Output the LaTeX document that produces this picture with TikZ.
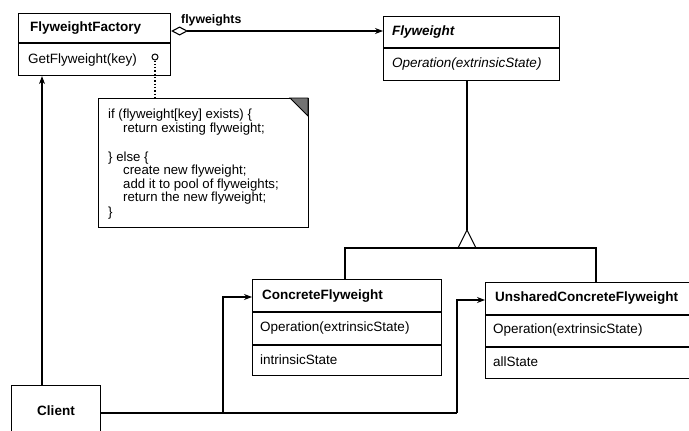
\documentclass[tikz,border=0pt]{standalone}
\usepackage{fontspec}
\setmainfont{Liberation Sans}
\usetikzlibrary{arrows.meta}
\begin{document}
\begin{tikzpicture}[x=1pt,y=-1pt,
  box/.style={draw,line width=1.1pt,anchor=north west,inner sep=0pt},
  title/.style={anchor=west,inner sep=0pt,font=\fontsize{13.5}{16}\selectfont\bfseries},
  member/.style={anchor=west,inner sep=0pt,font=\fontsize{13.5}{16}\selectfont},
  link/.style={line width=1.1pt},
  tip/.style={-{Stealth[length=8pt,width=6pt]}}
]
\useasboundingbox (0,0) rectangle (689,431);

% FlyweightFactory
\node[box,minimum width=152pt,minimum height=62pt] (factory) at (18,13) {};
\draw[link] (18,43) -- (170,43);
\node[title] (factoryname) at (30,28) {FlyweightFactory};
\node[member] (getfly) at (28,60) {GetFlyweight(key)};
\node[draw,circle,line width=1pt,minimum size=6pt,inner sep=0pt] (hook) at (155,57) {};

% Flyweight (abstract)
\node[box,minimum width=176pt,minimum height=64pt] (flyweight) at (383,16) {};
\draw[link] (383,48) -- (559,48);
\node[title,font=\fontsize{13.5}{16}\selectfont\bfseries\itshape] (flyname) at (392,32) {Flyweight};
\node[member,font=\fontsize{13.5}{16}\selectfont\itshape] (flyop) at (392,64) {Operation(extrinsicState)};

% ConcreteFlyweight
\node[box,minimum width=189pt,minimum height=96pt] (cf) at (252,279) {};
\draw[link] (252,312) -- (441,312);
\draw[link] (252,345) -- (441,345);
\node[title] (cfname) at (262,296) {ConcreteFlyweight};
\node[member] (cfop) at (260,328) {Operation(extrinsicState)};
\node[member] (cfstate) at (260,360) {intrinsicState};

% UnsharedConcreteFlyweight
\node[box,minimum width=220pt,minimum height=96pt] (ucf) at (485,282) {};
\draw[link] (485,315) -- (705,315);
\draw[link] (485,347) -- (705,347);
\node[title] (ucfname) at (495,298) {UnsharedConcreteFlyweight};
\node[member] (ucfop) at (493,330) {Operation(extrinsicState)};
\node[member] (ucfstate) at (493,362) {allState};

% Client
\node[box,minimum width=89pt,minimum height=60pt] (client) at (11,385) {};
\node[title,anchor=center] (clientname) at (56,411) {Client};

% Note attached to GetFlyweight
\node[box,minimum width=210pt,minimum height=129pt] (note) at (98,98) {};
\filldraw[line width=0.9pt,fill=black!55] (290,98) -- (308,98) -- (308,116) -- cycle;
\node[anchor=north west,inner sep=0pt,align=left,font=\fontsize{13.2}{13.5}\selectfont] (code) at (108,109)
  {if (flyweight[key] exists) \{\\
   \hspace{15pt}return existing flyweight;\\[15.5pt]
   \} else \{\\
   \hspace{15pt}create new flyweight;\\
   \hspace{15pt}add it to pool of flyweights;\\
   \hspace{15pt}return the new flyweight;\\[1.5pt]
   \}};
\draw[line width=1.3pt,dotted] (hook.south) -- (note.north -| hook);

% Aggregation: factory holds flyweights
\draw[link,{Diamond[open,length=17pt,width=9pt]}-{Stealth[length=8pt,width=6pt]}]
  (factory.east |- 0,31) -- (flyweight.west |- 0,31);
\node[anchor=west,inner sep=0pt,font=\fontsize{12.3}{14}\selectfont\bfseries] (rolename) at (181,20) {flyweights};

% Generalization
\coordinate (apex) at (467,230);
\coordinate (bar) at (467,248);
\draw[link] (flyweight.south -| apex) -- (apex);
\draw[link,fill=white] (apex) -- ([xshift=-9pt]bar) -- ([xshift=9pt]bar) -- cycle;
\draw[link] (cf.north -| 345,0) -- (345,248) -- (596,248) -- (ucf.north -| 596,0);

% Client associations
\coordinate (j1) at (223,413);
\coordinate (j2) at (457,413);
\draw[link,tip] (client.north -| 42,0) -- (factory.south -| 42,0);
\draw[link] (client.east |- j2) -- (j2);
\draw[link,tip] (j2) |- (ucf.west |- 0,300);
\draw[link,tip] (j1) |- (cf.west |- 0,297);
\end{tikzpicture}
\end{document}
